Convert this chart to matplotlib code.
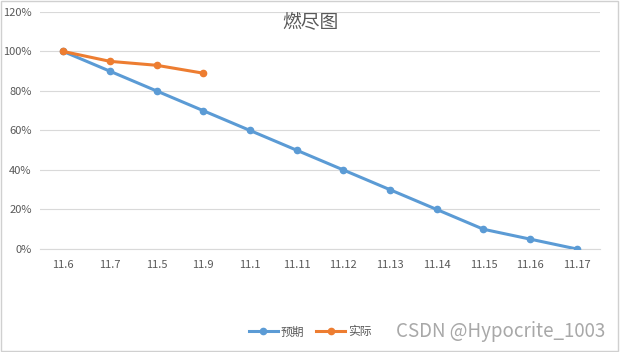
import matplotlib
matplotlib.use('Agg')
import matplotlib.pyplot as plt
from matplotlib.ticker import PercentFormatter

plt.rcParams['font.family'] = ['Noto Sans CJK SC', 'DejaVu Sans']

# 数据
categories = ['11.6', '11.7', '11.5', '11.9', '11.1', '11.11', '11.12',
              '11.13', '11.14', '11.15', '11.16', '11.17']
expected = [100, 90, 80, 70, 60, 50, 40, 30, 20, 10, 5, 0]
actual = [100, 95, 93, 89]
y_ticks = [0, 20, 40, 60, 80, 100, 120]

text_color = '#595959'
grid_color = '#d9d9d9'

fig = plt.figure(figsize=(6.2, 3.52), dpi=100)
ax = fig.add_axes([0.0645, 0.2926, 0.9035, 0.6734])

x = list(range(len(categories)))
ax.plot(x, expected, color='#5B9BD5', linewidth=2.2, marker='o',
        markersize=4.5, label='预期', zorder=3)
ax.plot(x[:len(actual)], actual, color='#ED7D31', linewidth=2.2, marker='o',
        markersize=4.5, label='实际', zorder=4)

ax.set_xlim(-0.5, len(categories) - 0.5)
ax.set_ylim(0, 120)
ax.set_yticks(y_ticks)
ax.yaxis.set_major_formatter(PercentFormatter(decimals=0))
ax.set_xticks(x)
ax.set_xticklabels(categories)
ax.grid(axis='y', color=grid_color, linewidth=0.8)
ax.set_axisbelow(True)
for s in ['top', 'right', 'left']:
    ax.spines[s].set_visible(False)
ax.spines['bottom'].set_color(grid_color)
ax.tick_params(axis='both', length=0, labelsize=8, colors=text_color)
ax.tick_params(axis='x', pad=8)
ax.tick_params(axis='y', pad=6)

fig.text(0.5, 0.936, '燃尽图', ha='center', va='center', fontsize=13.5,
         color=text_color)

fig.legend(loc='center', bbox_to_anchor=(0.5, 0.057), ncol=2, frameon=False,
           fontsize=8.5, labelcolor=text_color, handlelength=2.5,
           columnspacing=1.0, handletextpad=0.2)

fig.text(0.977, 0.057, 'CSDN @Hypocrite_1003', ha='right', va='center',
         fontsize=13.5, color='#a8a8a8')

# 外框
fig.patches.append(plt.Rectangle((0.002, 0.003), 0.995, 0.994,
                                 transform=fig.transFigure, fill=False,
                                 edgecolor='#d0d0d0', linewidth=1))

fig.savefig('out.png', dpi=100)
